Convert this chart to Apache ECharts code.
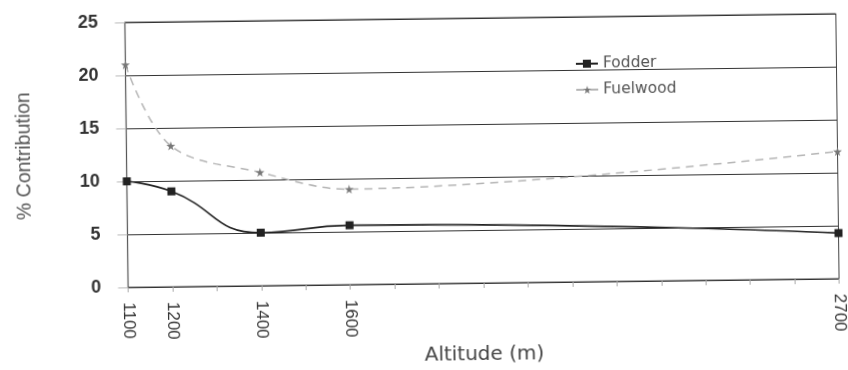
<!DOCTYPE html>
<html>
<head>
<meta charset="utf-8">
<script src="https://cdn.jsdelivr.net/npm/echarts@6/dist/echarts.min.js"></script>
<style>
  html, body { margin: 0; padding: 0; background: #fff; }
  #chart {
    width: 848px; height: 370px;
    transform: rotate(-0.7deg);
    transform-origin: 482px 153px;
  }
</style>
</head>
<body>
<div id="chart"></div>
<script>
// Altitude (m) of each sampled site
const altitudes = [1100, 1200, 1400, 1600, 2700];
// % contribution of each product
const fodder   = [10.0, 9.0, 5.0, 5.6, 4.3];
const fuelwood = [21.0, 13.3, 10.7, 9.0, 12.0];
// Altitudes that carry a label on the x axis
const labelledAltitudes = [1100, 1200, 1400, 1600, 2700];
const yTicks = { min: 0, max: 25, step: 5 };

const starPath = 'path://M50,0 L61,35 L98,35 L68,57 L79,91 L50,70 L21,91 L32,57 L2,35 L39,35 Z';

const pairs = (xs, ys) => xs.map((x, i) => [x, ys[i]]);

const sans = 'Liberation Sans, Arial, sans-serif';
const wide = 'DejaVu Sans, Verdana, sans-serif';

const chart = echarts.init(document.getElementById('chart'), null, { renderer: 'canvas' });
chart.setOption({
  animation: false,
  backgroundColor: '#fff',
  textStyle: { fontFamily: sans },
  grid: {
    left: 126.5, right: 10.5, top: 18, bottom: 82,
    show: true, borderColor: '#444', borderWidth: 1, backgroundColor: 'transparent'
  },
  legend: {
    orient: 'vertical',
    left: 571, top: 52,
    itemWidth: 22, itemHeight: 10, itemGap: 10,
    textStyle: { fontSize: 15.5, color: '#555', fontFamily: wide },
    data: ['Fodder', 'Fuelwood']
  },
  xAxis: {
    type: 'value',
    min: 1100, max: 2700, interval: 100,
    name: 'Altitude (m)',
    nameLocation: 'middle',
    nameGap: 62,
    nameTextStyle: { fontSize: 20, color: '#444', fontFamily: wide },
    axisLine: { show: true, lineStyle: { color: '#333', width: 1.2 } },
    axisTick: { show: true, length: 5, lineStyle: { color: '#aaa' } },
    splitLine: { show: false },
    axisLabel: {
      rotate: -90,
      margin: 15,
      fontSize: 17,
      color: '#333',
      showMinLabel: true, showMaxLabel: true,
      formatter: v => labelledAltitudes.includes(v) ? String(v) : ''
    }
  },
  yAxis: {
    type: 'value',
    min: yTicks.min, max: yTicks.max, interval: yTicks.step,
    name: '% Contribution',
    nameLocation: 'middle',
    nameGap: 92,
    nameTextStyle: { fontSize: 19.5, color: '#555' },
    axisLine: { show: true, lineStyle: { color: '#555', width: 1.2 } },
    axisTick: { show: true, length: 10, lineStyle: { color: '#bbb' } },
    splitLine: { show: true, lineStyle: { color: '#333', width: 1.2 } },
    axisLabel: { margin: 27, fontSize: 18, fontWeight: 'bold', color: '#333' }
  },
  series: [
    {
      name: 'Fodder',
      type: 'line',
      data: pairs(altitudes, fodder),
      smooth: 0.5,
      symbol: 'rect',
      symbolSize: 8,
      itemStyle: { color: '#222' },
      lineStyle: { color: '#222', width: 1.6 },
      z: 3
    },
    {
      name: 'Fuelwood',
      type: 'line',
      data: pairs(altitudes, fuelwood),
      smooth: 0.35,
      symbol: starPath,
      symbolSize: 9,
      itemStyle: { color: '#777' },
      lineStyle: { color: '#b5b5b5', width: 1.5, type: [8, 6] },
      z: 2
    }
  ]
});
</script>
</body>
</html>
